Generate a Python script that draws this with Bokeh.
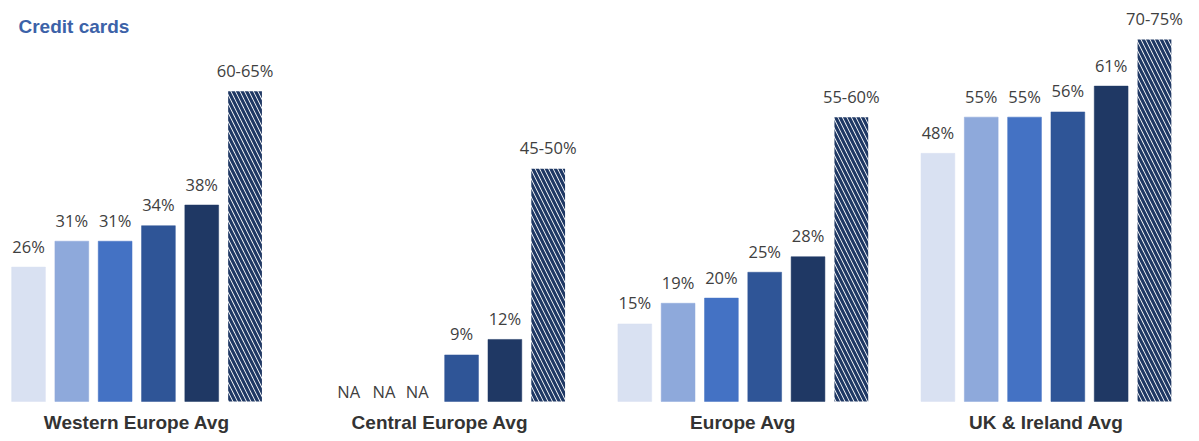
from bokeh.plotting import figure
from bokeh.models import Range1d, ColumnDataSource, Label
from bokeh.core.properties import value
from bokeh.embed import file_html
from bokeh.resources import INLINE

# ---- data ----
groups = ["Western Europe Avg", "Central Europe Avg", "Europe Avg", "UK & Ireland Avg"]
s1 = [26, None, 15, 48]
s2 = [31, None, 19, 55]
s3 = [31, None, 20, 55]
s4 = [34, 9, 25, 56]
s5 = [38, 12, 28, 61]
target_low = [60, 45, 55, 70]
target_high = [65, 50, 60, 75]
title = "Credit cards"

colors = ["#D9E1F2", "#8EA9DB", "#4472C4", "#2F5597", "#1F3864"]
hatch_color = "#1F3864"
label_color = "#404040"

SLOTS = 7          # 6 bars + 1 gap per group
BAR_W = 0.78

p = figure(width=1199, height=441, output_backend="svg", toolbar_location=None,
           x_range=Range1d(-0.647, 27.04), y_range=Range1d(-7.74, 77.56),
           x_axis_type=None, y_axis_type=None, min_border=0)
p.grid.visible = False
p.outline_line_color = None
p.background_fill_color = "white"
p.border_fill_color = "white"

series = [s1, s2, s3, s4, s5]
bx, btop, bcol, lx, ly, lt = [], [], [], [], [], []
nax, nat = [], []
for i, s in enumerate(series):
    for g, v in enumerate(s):
        x = g * SLOTS + i
        if v is None:
            nax.append(x)
            nat.append("NA")
        else:
            bx.append(x); btop.append(v); bcol.append(colors[i])
            lx.append(x); ly.append(v); lt.append(f"{v}%")

# NA labels sit slightly right of their slot
na_px = [17, 9, -1]
nashift = [na_px[k % 3] for k in range(len(nax))]

src = ColumnDataSource(dict(x=bx, top=btop, color=bcol))
p.vbar(x="x", top="top", bottom=0, width=BAR_W, fill_color="color",
       line_color="color", line_width=0.5, source=src)

hx = [g * SLOTS + 5 for g in range(len(groups))]
hsrc = ColumnDataSource(dict(x=hx, top=target_low,
                             label=[f"{a}-{b}%" for a, b in zip(target_low, target_high)]))
p.vbar(x="x", top="top", bottom=0, width=BAR_W, fill_color="white", line_color=None,
       hatch_pattern="left_diagonal_line", hatch_color=hatch_color,
       hatch_scale=9, hatch_weight=3.2, source=hsrc)

lsrc = ColumnDataSource(dict(x=lx, y=ly, t=lt))
p.text(x="x", y="y", text="t", source=lsrc, text_align="center",
       text_baseline="alphabetic", y_offset=-21, text_font=value("Open Sans"),
       text_font_size="16.5px", text_color=label_color)
p.text(x="x", y="top", text="label", source=hsrc, text_align="center",
       text_baseline="alphabetic", y_offset=-21, text_font=value("Open Sans"),
       text_font_size="16.5px", text_color=label_color)

nsrc = ColumnDataSource(dict(x=nax, y=[0] * len(nax), t=nat, dx=nashift))
p.text(x="x", y="y", text="t", source=nsrc, x_offset="dx", text_align="center",
       text_baseline="alphabetic", y_offset=-10, text_font=value("Open Sans"),
       text_font_size="16.5px", text_color=label_color)

gsrc = ColumnDataSource(dict(x=[g * SLOTS + 2.5 for g in range(len(groups))],
                             y=[0] * len(groups), t=groups))
p.text(x="x", y="y", text="t", source=gsrc, text_align="center",
       text_baseline="alphabetic", y_offset=21, text_font=value("Liberation Sans"),
       text_font_style="bold", text_font_size="19px", text_color="#333333")

p.add_layout(Label(x=18, y=441 - 26, x_units="screen", y_units="screen", text=title,
                   text_font="Liberation Sans", text_font_style="bold",
                   text_font_size="19px", text_color="#3C62A8",
                   text_baseline="alphabetic"))

open("out.html", "w").write(file_html(p, INLINE))
